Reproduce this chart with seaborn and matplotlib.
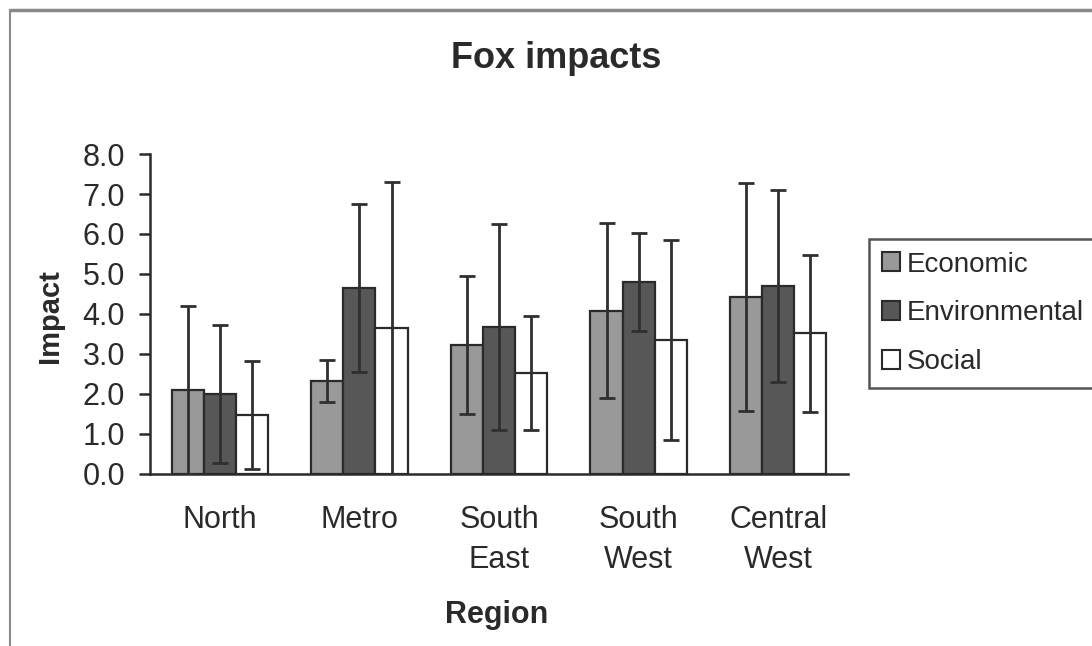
import matplotlib
matplotlib.use("Agg")
import matplotlib.pyplot as plt
import seaborn as sns
import pandas as pd
import numpy as np
from matplotlib.lines import Line2D

regions = ["North", "Metro", "South\nEast", "South\nWest", "Central\nWest"]
series = ["Economic", "Environmental", "Social"]
economic = [2.1, 2.32, 3.22, 4.08, 4.42]
environmental = [2.0, 4.65, 3.68, 4.80, 4.70]
social = [1.48, 3.65, 2.52, 3.35, 3.52]
economic_err = [2.1, 0.53, 1.72, 2.19, 2.85]
environmental_err = [1.73, 2.1, 2.58, 1.22, 2.4]
social_err = [1.35, 3.65, 1.43, 2.5, 1.96]
yticks = [0.0, 1.0, 2.0, 3.0, 4.0, 5.0, 6.0, 7.0, 8.0]

sns.set_theme(style="white")
plt.rcParams["font.family"] = ["Liberation Sans", "DejaVu Sans"]

values = {"Economic": economic, "Environmental": environmental, "Social": social}
errs = {"Economic": economic_err, "Environmental": environmental_err, "Social": social_err}
rows = []
for s in series:
    for r, v, e in zip(regions, values[s], errs[s]):
        rows.append({"Region": r, "Series": s, "Impact": v, "Err": e})
df = pd.DataFrame(rows)

fig = plt.figure(figsize=(10.92, 6.46), dpi=100)
ax = fig.add_axes([0.1374, 0.2663, 0.6392, 0.4953])

palette = {"Economic": "#999999", "Environmental": "#575757", "Social": "#ffffff"}
sns.barplot(data=df, x="Region", y="Impact", hue="Series", order=regions,
            hue_order=series, palette=palette, width=0.69, errorbar=None,
            edgecolor="#2a2a2a", linewidth=1.6, saturation=1, ax=ax, legend=True)

# error bars at the bar centres
for s_i, s in enumerate(series):
    cont = ax.containers[s_i]
    xs = [b.get_x() + b.get_width() / 2 for b in cont]
    ax.errorbar(xs, values[s], yerr=errs[s], fmt="none", ecolor="#2f2f2f",
                elinewidth=2.0, capsize=6, capthick=2.0, zorder=5)

text_c = "#2a2a2a"
ax.set_ylim(0, 8)
ax.set_xlim(-0.5, 4.5)
ax.set_yticks(yticks)
ax.set_yticklabels([f"{t:.1f}" for t in yticks], fontsize=22, color=text_c)
ax.set_xticks(range(len(regions)))
ax.set_xticklabels(regions, fontsize=22, color=text_c, linespacing=1.45)
ax.tick_params(axis="x", which="major", length=0, pad=22)
ax.set_xticks(np.arange(-0.5, 5.0, 1.0), minor=True)
ax.tick_params(axis="x", which="minor", length=9, width=1.8, color="#2a2a2a", direction="out")
ax.tick_params(axis="y", which="major", length=8, width=1.8, color="#2a2a2a",
               direction="out", pad=10, left=True)

for side in ["top", "right"]:
    ax.spines[side].set_visible(False)
for side in ["left", "bottom"]:
    ax.spines[side].set_color("#2a2a2a")
    ax.spines[side].set_linewidth(1.8)

ax.set_xlabel("Region", fontsize=22, fontweight="bold", color=text_c, va="center")
ax.xaxis.set_label_coords(0.497, -0.44)
ax.set_ylabel("Impact", fontsize=21, fontweight="bold", color=text_c, va="center")
ax.yaxis.set_label_coords(-0.143, 0.494)
fig.text(0.509, 1 - 68 / 646, "Fox impacts", ha="center", va="baseline", fontsize=26,
         fontweight="bold", color=text_c)

handles = [plt.Rectangle((0, 0), 1, 1, facecolor=palette[s], edgecolor="#2a2a2a", linewidth=1.5)
           for s in series]
leg = ax.legend(handles, series, loc="upper left", bbox_to_anchor=(869 / 1092, 1 - 239 / 646),
                bbox_transform=fig.transFigure, fontsize=20, frameon=True, fancybox=False,
                edgecolor="#2a2a2a", handlelength=0.65, handleheight=0.65, handletextpad=0.25,
                labelspacing=0.82, borderpad=0.45, borderaxespad=0)
for t in leg.get_texts():
    t.set_color(text_c)
leg.get_frame().set_linewidth(1.8)

# outer grey frame (top and left)
fig.add_artist(Line2D([0.0092, 1.0], [0.9845, 0.9845], transform=fig.transFigure,
                      color="#8a8a8a", linewidth=2.5))
fig.add_artist(Line2D([0.0092, 0.0092], [0.0, 0.9845], transform=fig.transFigure,
                      color="#8a8a8a", linewidth=1.5))

fig.savefig("out.png", dpi=100, facecolor="white")
